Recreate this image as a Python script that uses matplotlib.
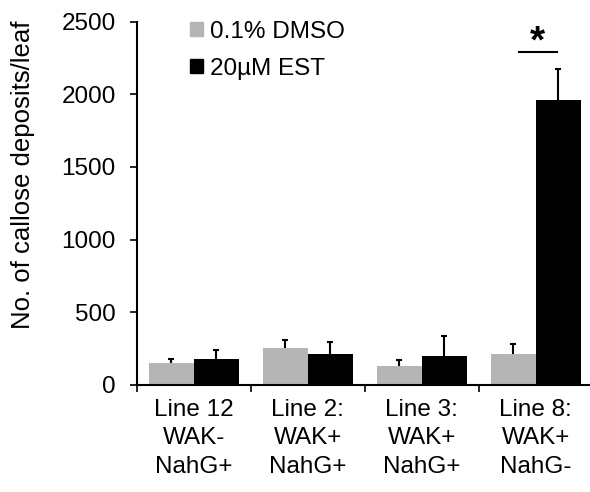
import matplotlib
matplotlib.use("Agg")
import matplotlib.pyplot as plt
from matplotlib.patches import Patch
import numpy as np

# values
lines = ["Line 12\nWAK-\nNahG+", "Line 2:\nWAK+\nNahG+", "Line 3:\nWAK+\nNahG+", "Line 8:\nWAK+\nNahG-"]
dmso = [148, 255, 128, 213]
dmso_err = [34, 53, 45, 67]
est = [182, 215, 200, 1960]
est_err = [62, 83, 136, 215]
series = ["0.1% DMSO", "20\u00b5M EST"]

GREY = "#b5b5b5"
plt.rcParams.update({"font.family": ["Liberation Sans", "DejaVu Sans"], "font.size": 17.5})

fig = plt.figure(figsize=(5.9, 4.92), dpi=100)
ax = fig.add_axes([0.2317, 0.2175, 0.773, 0.7385])

x = np.arange(len(lines))
w = 0.395
for off, vals, errs, col in [(-w / 2, dmso, dmso_err, GREY), (w / 2, est, est_err, "black")]:
    xs = x + off
    tops = np.array(vals) + np.array(errs)
    ax.bar(xs, vals, w, color=col, zorder=2)
    ax.vlines(xs, vals, tops, color="black", lw=1.5, zorder=3)
    ax.plot(xs, tops, ls="none", marker="_", ms=4, mew=1.5, color="black", zorder=3)

ax.set_xlim(-0.5, 3.5)
ax.set_ylim(0, 2500)
ax.set_yticks(range(0, 2501, 500))
ax.set_xticks(np.arange(-0.5, 3.6, 1))
ax.set_xticklabels([])
ax.set_xticks(x, minor=True)
ax.set_xticklabels(lines, minor=True, linespacing=1.38)
ax.tick_params(axis="x", which="minor", length=0, pad=10)
ax.tick_params(axis="x", which="major", length=5, width=1.2, direction="out")
ax.tick_params(axis="y", length=5, width=1.2, pad=10)
for s in ("top", "right"):
    ax.spines[s].set_visible(False)
for s in ("left", "bottom"):
    ax.spines[s].set_linewidth(1.5)

ax.set_ylabel("No. of callose deposits/leaf", fontsize=18.5)
ax.yaxis.set_label_coords(-0.222, 0.58)

# significance marker on Line 8
ax.plot([2.85, 3.19], [2293, 2293], color="black", lw=1.5)
ax.text(3.015, 2285, "*", ha="center", va="baseline", fontsize=28, fontweight="bold")

ax.legend([Patch(color=GREY), Patch(color="black")], series,
          loc="upper left", bbox_to_anchor=(0.117, 1.003), frameon=False,
          borderpad=0, borderaxespad=0,
          handlelength=0.52, handleheight=0.52, handletextpad=0.3, labelspacing=0.63)

fig.savefig("out.png", dpi=100)
